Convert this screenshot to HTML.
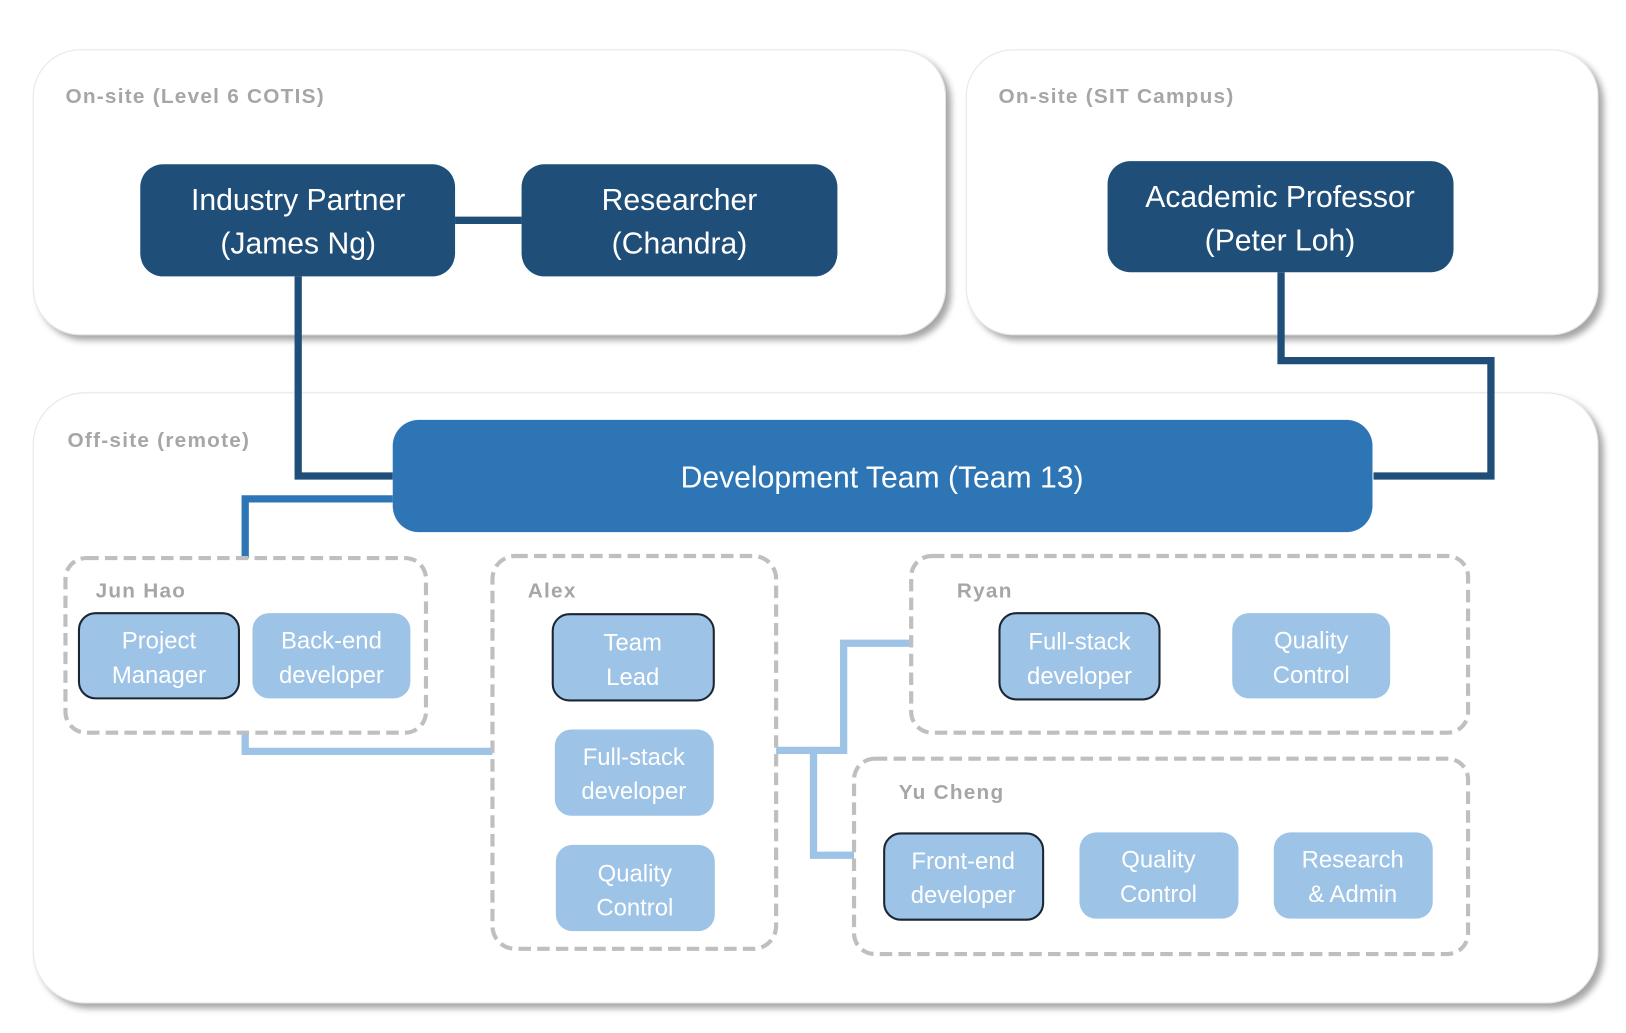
<!DOCTYPE html>
<html><head><meta charset="utf-8"><style>
html,body{margin:0;padding:0;background:#fff;width:1626px;height:1033px;overflow:hidden}
svg{display:block}
text{font-family:"Liberation Sans",sans-serif}
.lbl{font-size:20px;font-weight:bold;fill:#a6a6a6;letter-spacing:1.2px}
.big{font-size:29px;fill:#fff;text-anchor:middle}
.sm{font-size:23px;fill:#fff;text-anchor:middle}
.dash{fill:none;stroke:#bfbfbf;stroke-width:4;stroke-dasharray:12 6}
.lb{fill:#9dc3e6}
.lbo{fill:#9dc3e6;stroke:#1c2533;stroke-width:2}
</style></head><body>
<svg width="1626" height="1033" viewBox="0 0 1565 994" preserveAspectRatio="none">
<defs><filter id="sh" x="-5%" y="-5%" width="110%" height="115%"><feDropShadow dx="5" dy="5" stdDeviation="3" flood-color="#000" flood-opacity="0.35"/></filter></defs>
<rect x="32" y="48" width="878" height="274" rx="45" fill="#fff" stroke="#e6e6e6" filter="url(#sh)"/>
<rect x="930" y="48" width="608" height="274" rx="45" fill="#fff" stroke="#e6e6e6" filter="url(#sh)"/>
<rect x="32" y="378" width="1506" height="587" rx="50" fill="#fff" stroke="#e6e6e6" filter="url(#sh)"/>
<text class="lbl" x="63" y="99">On-site (Level 6 COTIS)</text>
<text class="lbl" x="961" y="99">On-site (SIT Campus)</text>
<text class="lbl" x="65" y="430">Off-site (remote)</text>
<g fill="none" stroke="#1f4e79" stroke-width="7">
<line x1="438" y1="212" x2="502" y2="212"/>
<polyline points="287,266 287,458 378,458"/>
<polyline points="1233,262 1233,347 1435,347 1435,458 1322,458"/>
</g>
<polyline points="378,480 236,480 236,537" fill="none" stroke="#2e75b6" stroke-width="7"/>
<g fill="none" stroke="#9dc3e6" stroke-width="7">
<polyline points="236,705 236,723 474,723"/>
<polyline points="747,722 812,722 812,619 877,619"/>
<polyline points="783,722 783,823 822,823"/>
</g>
<rect x="135" y="158" width="303" height="108" rx="22" fill="#1f4e79"/>
<text class="big" x="287" y="202">Industry Partner</text><text class="big" x="287" y="244">(James Ng)</text>
<rect x="502" y="158" width="304" height="108" rx="22" fill="#1f4e79"/>
<text class="big" x="654" y="202">Researcher</text><text class="big" x="654" y="244">(Chandra)</text>
<rect x="1066" y="155" width="333" height="107" rx="22" fill="#1f4e79"/>
<text class="big" x="1232" y="199">Academic Professor</text><text class="big" x="1232" y="241">(Peter Loh)</text>
<rect x="378" y="404" width="943" height="108" rx="25" fill="#2e75b6"/>
<text class="big" x="849" y="469">Development Team (Team 13)</text>
<rect class="dash" x="63" y="537" width="347" height="168" rx="20"/>
<rect class="dash" x="474" y="535" width="273" height="378" rx="22"/>
<rect class="dash" x="877" y="535" width="536" height="170" rx="20"/>
<rect class="dash" x="822" y="730" width="591" height="188" rx="20"/>
<text class="lbl" x="92" y="575">Jun Hao</text>
<text class="lbl" x="508" y="575">Alex</text>
<text class="lbl" x="921" y="575">Ryan</text>
<text class="lbl" x="865" y="769">Yu Cheng</text>
<rect class="lbo" x="76" y="590" width="154" height="82" rx="16"/>
<text class="sm" x="153" y="624">Project</text><text class="sm" x="153" y="657">Manager</text>
<rect class="lb" x="243" y="590" width="152" height="82" rx="16"/>
<text class="sm" x="319" y="624">Back-end</text><text class="sm" x="319" y="657">developer</text>
<rect class="lbo" x="532" y="591" width="155" height="83" rx="16"/>
<text class="sm" x="609" y="626">Team</text><text class="sm" x="609" y="659">Lead</text>
<rect class="lb" x="534" y="702" width="153" height="83" rx="16"/>
<text class="sm" x="610" y="736">Full-stack</text><text class="sm" x="610" y="769">developer</text>
<rect class="lb" x="535" y="813" width="153" height="83" rx="16"/>
<text class="sm" x="611" y="848">Quality</text><text class="sm" x="611" y="881">Control</text>
<rect class="lbo" x="962" y="590" width="154" height="83" rx="16"/>
<text class="sm" x="1039" y="625">Full-stack</text><text class="sm" x="1039" y="658">developer</text>
<rect class="lb" x="1186" y="590" width="152" height="82" rx="16"/>
<text class="sm" x="1262" y="624">Quality</text><text class="sm" x="1262" y="657">Control</text>
<rect class="lbo" x="851" y="802" width="153" height="83" rx="16"/>
<text class="sm" x="927" y="836">Front-end</text><text class="sm" x="927" y="869">developer</text>
<rect class="lb" x="1039" y="801" width="153" height="83" rx="16"/>
<text class="sm" x="1115" y="835">Quality</text><text class="sm" x="1115" y="868">Control</text>
<rect class="lb" x="1226" y="801" width="153" height="83" rx="16"/>
<text class="sm" x="1302" y="835">Research</text><text class="sm" x="1302" y="868">&amp; Admin</text>
</svg>
</body></html>
